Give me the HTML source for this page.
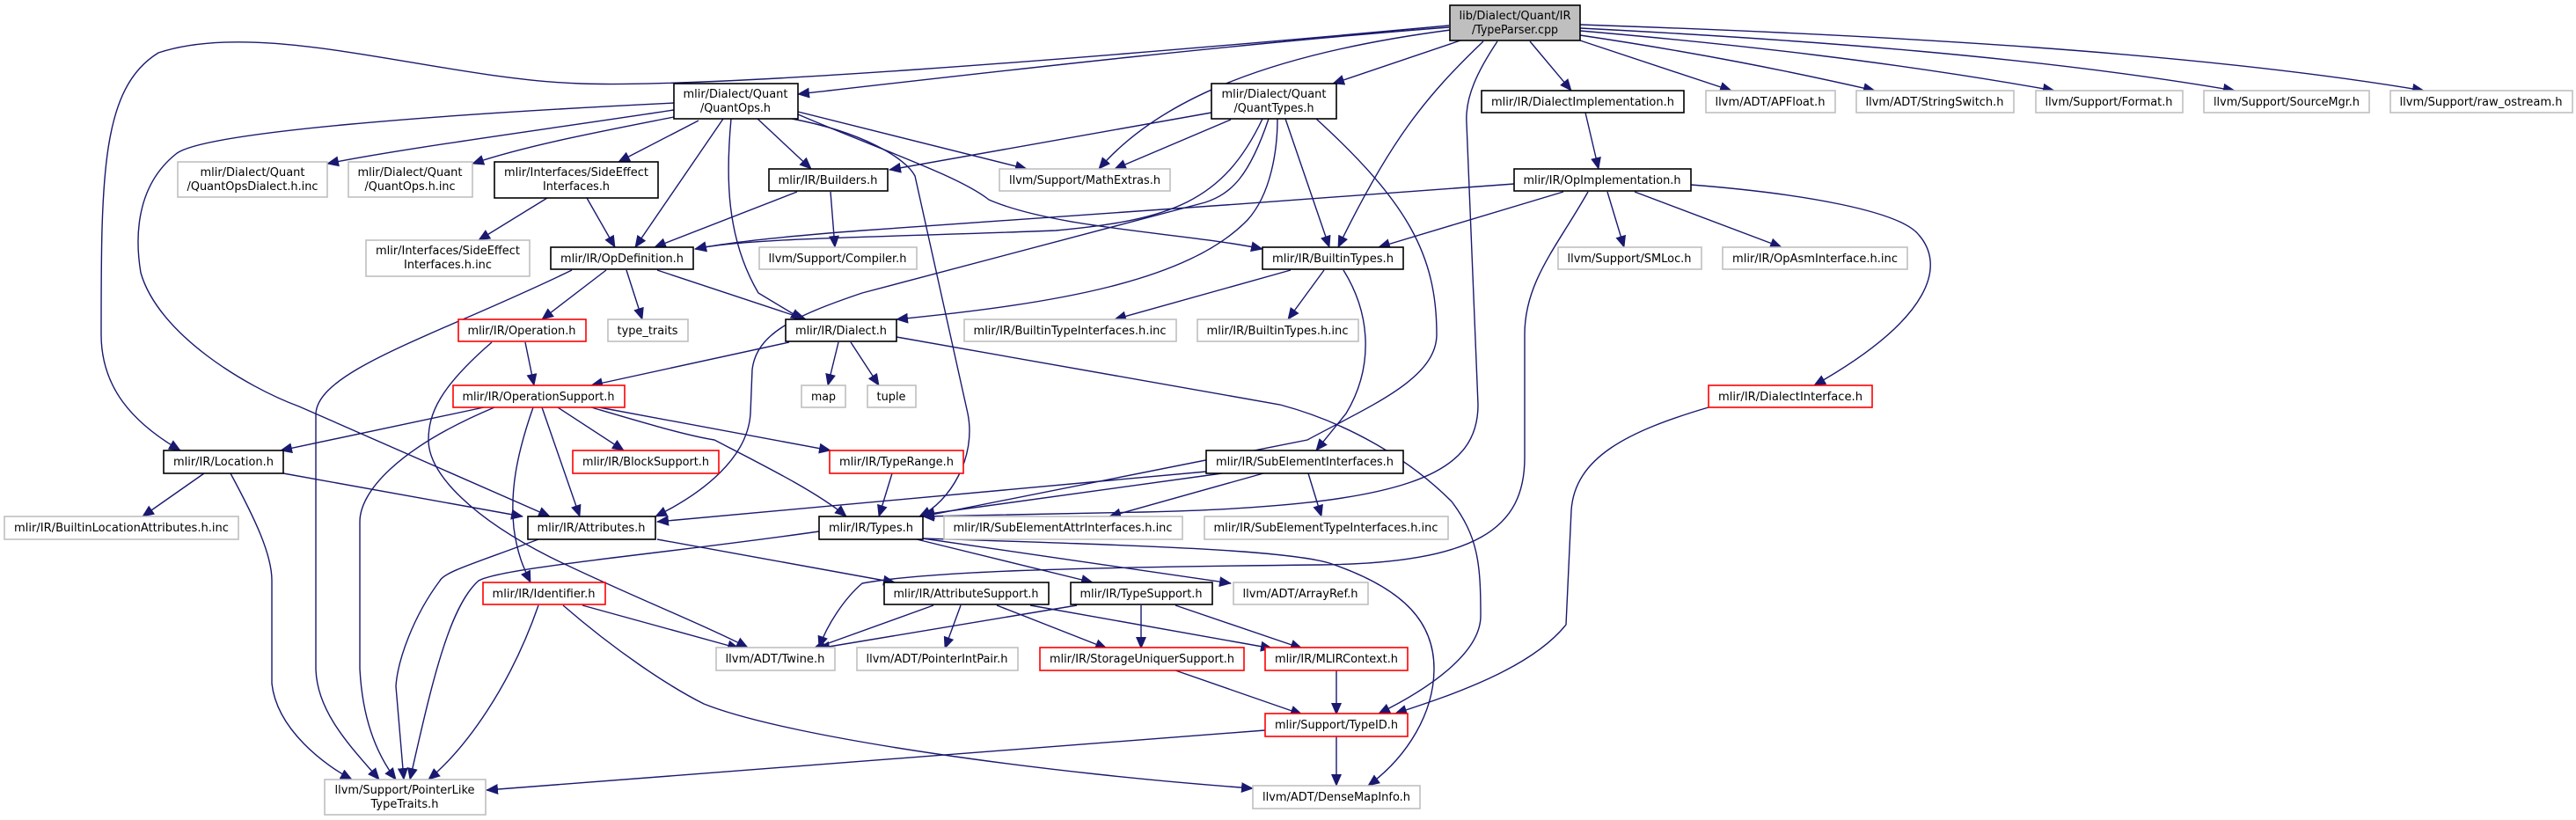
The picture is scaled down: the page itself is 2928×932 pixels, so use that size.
<!DOCTYPE html>
<html><head><meta charset="utf-8"><style>
html,body{margin:0;padding:0;background:#fff;}
svg{display:block;}
text{font-family:"DejaVu Sans","Liberation Sans",sans-serif;font-size:13px;fill:#000;}
.b{fill:#fff;stroke:#000;stroke-width:1.6;}
.g{fill:#fff;stroke:#bfbfbf;stroke-width:1.6;}
.r{fill:#fff;stroke:#ff0000;stroke-width:1.6;}
.e{fill:none;stroke:#191970;stroke-width:1.4;marker-end:url(#a);}
</style></head><body>
<svg width="2928" height="932" viewBox="0 0 2928 932" xmlns="http://www.w3.org/2000/svg">
<defs><marker id="a" markerUnits="userSpaceOnUse" markerWidth="14" markerHeight="12" refX="13" refY="6" orient="auto"><path d="M0,0 L14,6 L0,12 z" fill="#191970"/></marker></defs>

<!-- edges -->
<g>
<path class="e" d="M1647,31 C1400,50 1100,85 907,107"/>
<path class="e" d="M1647,29 C1200,70 800,100 660,95 C500,90 300,20 180,60 C115,100 115,200 115,380 C115,440 150,480 205,512"/>
<path class="e" d="M1649,34 C1450,60 1320,110 1249,192"/>
<path class="e" d="M1660,46 L1515,95"/>
<path class="e" d="M1686,47 C1620,110 1580,160 1521,281"/>
<path class="e" d="M1739,47 L1786,103"/>
<path class="e" d="M1702,47 C1680,80 1665,110 1667,140 L1680,460 C1680,540 1600,575 1300,582 L1049,587"/>
<path class="e" d="M1796,46 L1968,103"/>
<path class="e" d="M1796,40 C1930,60 2030,80 2131,103"/>
<path class="e" d="M1796,35 C1970,50 2150,70 2335,103"/>
<path class="e" d="M1796,32 C2050,45 2320,65 2540,103"/>
<path class="e" d="M1796,28 C2150,40 2500,60 2755,103"/>

<path class="e" d="M766,125 C600,150 450,170 372,186"/>
<path class="e" d="M766,133 C680,150 600,165 537,186"/>
<path class="e" d="M794,137 L703,184"/>
<path class="e" d="M822,135 L722,281"/>
<path class="e" d="M831,135 C825,200 825,270 862,333 L912,363"/>
<path class="e" d="M861,135 L922,192"/>
<path class="e" d="M766,117 C500,130 230,150 200,175 C150,215 155,280 160,310 C180,380 280,440 340,462 L625,587"/>
<path class="e" d="M907,127 L1167,192"/>
<path class="e" d="M907,130 C1000,170 1090,200 1124,227 C1200,260 1350,265 1435,283"/>
<path class="e" d="M900,135 C980,150 1030,180 1040,200 L1100,470 C1110,520 1080,570 1045,587"/>

<path class="e" d="M1377,128 L1011,193"/>
<path class="e" d="M1399,136 L1267,192"/>
<path class="e" d="M1435,135 C1390,230 1330,250 1200,262 C1000,270 850,270 790,283"/>
<path class="e" d="M1442,135 C1420,200 1400,220 1370,230 L980,333 C900,360 860,380 855,420 L853,470 C850,520 800,560 745,587"/>
<path class="e" d="M1461,135 L1511,281"/>
<path class="e" d="M1452,135 C1452,170 1445,220 1418,250 C1350,320 1200,345 1019,363"/>
<path class="e" d="M1496,135 C1600,230 1633,290 1633,380 C1633,430 1560,460 1486,500 L1049,587"/>

<path class="e" d="M906,218 L744,281"/>
<path class="e" d="M944,218 L949,281"/>
<path class="e" d="M622,225 L544,273"/>
<path class="e" d="M667,225 L699,281"/>
<path class="e" d="M689,307 L616,363"/>
<path class="e" d="M712,307 L730,363"/>
<path class="e" d="M747,307 L916,363"/>
<path class="e" d="M650,307 C500,380 362,420 359,470 L359,760 C360,810 400,850 431,886"/>
<path class="e" d="M597,389 L607,438"/>
<path class="e" d="M559,389 C500,440 487,470 487,500 C487,540 540,590 625,633 C700,670 800,710 850,736"/>
<path class="e" d="M897,389 L672,438"/>
<path class="e" d="M953,389 L941,438"/>
<path class="e" d="M967,389 L999,438"/>
<path class="e" d="M1019,383 L1455,460 C1530,480 1600,520 1650,570 C1680,610 1683,640 1683,700 C1683,740 1630,780 1567,811"/>

<path class="e" d="M1721,209 C1500,225 1100,255 980,262 C900,268 830,275 790,283"/>
<path class="e" d="M1777,218 L1567,281"/>
<path class="e" d="M1827,218 L1846,281"/>
<path class="e" d="M1858,218 L2025,281"/>
<path class="e" d="M1922,210 C2050,220 2160,240 2181,267 C2210,300 2200,360 2062,438"/>
<path class="e" d="M1805,218 C1770,280 1733,320 1733,380 L1733,520 C1733,600 1680,640 1500,642 C1200,645 1050,650 980,663 C960,680 940,710 931,736"/>
<path class="e" d="M1802,128 L1817,192"/>
<path class="e" d="M1467,307 L1267,363"/>
<path class="e" d="M1505,307 L1464,363"/>
<path class="e" d="M1527,307 C1560,360 1560,420 1530,470 L1496,512"/>

<path class="e" d="M550,463 L319,512"/>
<path class="e" d="M562,463 C450,510 409,560 409,593 L409,760 C412,820 430,860 450,886"/>
<path class="e" d="M606,463 C586,520 580,560 584,600 C588,630 595,645 603,662"/>
<path class="e" d="M616,463 L659,587"/>
<path class="e" d="M634,463 L709,512"/>
<path class="e" d="M672,463 C730,480 780,495 812,500 C870,530 930,560 962,587"/>
<path class="e" d="M681,463 L944,512"/>
<path class="e" d="M232,538 L162,587"/>
<path class="e" d="M322,538 L594,587"/>
<path class="e" d="M262,538 C290,590 309,630 309,660 L309,777 C315,830 370,870 400,886"/>
<path class="e" d="M612,613 C540,640 505,650 500,660 C470,700 452,750 450,780 L459,886"/>
<path class="e" d="M747,613 L1017,662"/>
<path class="e" d="M1014,538 L999,587"/>
<path class="e" d="M1371,536 L747,593"/>
<path class="e" d="M1389,538 L1049,585"/>
<path class="e" d="M1436,538 L1261,587"/>
<path class="e" d="M1487,538 L1502,587"/>
<path class="e" d="M931,604 C750,630 570,645 544,660 C510,690 490,780 466,886"/>
<path class="e" d="M1042,613 L1242,662"/>
<path class="e" d="M1049,612 L1399,663"/>
<path class="e" d="M1049,612 C1300,620 1460,625 1511,640 C1600,670 1630,710 1630,760 C1630,810 1600,860 1555,893"/>
<path class="e" d="M1061,688 L925,737"/>
<path class="e" d="M1092,688 L1074,737"/>
<path class="e" d="M1133,688 L1258,737"/>
<path class="e" d="M1171,688 L1446,737"/>
<path class="e" d="M1224,688 L930,737"/>
<path class="e" d="M1297,688 L1297,737"/>
<path class="e" d="M1336,688 L1480,737"/>
<path class="e" d="M1336,762 L1480,812"/>
<path class="e" d="M1519,762 L1519,812"/>
<path class="e" d="M1519,837 L1519,893"/>
<path class="e" d="M1438,830 L553,898"/>
<path class="e" d="M662,688 L840,737"/>
<path class="e" d="M612,688 C580,780 530,850 487,886"/>
<path class="e" d="M640,688 C700,740 760,780 800,800 C900,840 1200,880 1424,896"/>
<path class="e" d="M1942,463 C1850,490 1790,520 1786,580 L1780,710 C1740,760 1650,790 1586,811"/>
</g>

<!-- nodes -->
<g>
<rect x="1648" y="6" width="148" height="40" fill="#bfbfbf" stroke="#000" stroke-width="1.6"/>
<text x="1722" y="22" text-anchor="middle" textLength="127" lengthAdjust="spacingAndGlyphs">lib/Dialect/Quant/IR</text>
<text x="1722" y="38" text-anchor="middle" textLength="98" lengthAdjust="spacingAndGlyphs">/TypeParser.cpp</text>

<rect class="b" x="766" y="95" width="141" height="40"/>
<text x="836" y="111" text-anchor="middle" textLength="119" lengthAdjust="spacingAndGlyphs">mlir/Dialect/Quant</text>
<text x="836" y="127" text-anchor="middle" textLength="80" lengthAdjust="spacingAndGlyphs">/QuantOps.h</text>

<rect class="b" x="1377" y="95" width="142" height="40"/>
<text x="1448" y="111" text-anchor="middle" textLength="119" lengthAdjust="spacingAndGlyphs">mlir/Dialect/Quant</text>
<text x="1448" y="127" text-anchor="middle" textLength="91" lengthAdjust="spacingAndGlyphs">/QuantTypes.h</text>

<rect class="b" x="1684" y="103" width="230" height="25"/>
<text x="1799" y="120" text-anchor="middle" textLength="208" lengthAdjust="spacingAndGlyphs">mlir/IR/DialectImplementation.h</text>
<rect class="g" x="1939" y="103" width="147" height="25"/>
<text x="2012" y="120" text-anchor="middle" textLength="125" lengthAdjust="spacingAndGlyphs">llvm/ADT/APFloat.h</text>
<rect class="g" x="2110" y="103" width="179" height="25"/>
<text x="2199" y="120" text-anchor="middle" textLength="157" lengthAdjust="spacingAndGlyphs">llvm/ADT/StringSwitch.h</text>
<rect class="g" x="2314" y="103" width="167" height="25"/>
<text x="2397" y="120" text-anchor="middle" textLength="145" lengthAdjust="spacingAndGlyphs">llvm/Support/Format.h</text>
<rect class="g" x="2505" y="103" width="188" height="25"/>
<text x="2599" y="120" text-anchor="middle" textLength="166" lengthAdjust="spacingAndGlyphs">llvm/Support/SourceMgr.h</text>
<rect class="g" x="2717" y="103" width="207" height="25"/>
<text x="2820" y="120" text-anchor="middle" textLength="185" lengthAdjust="spacingAndGlyphs">llvm/Support/raw_ostream.h</text>

<rect class="g" x="202" y="184" width="170" height="40"/>
<text x="287" y="200" text-anchor="middle" textLength="119" lengthAdjust="spacingAndGlyphs">mlir/Dialect/Quant</text>
<text x="287" y="216" text-anchor="middle" textLength="149" lengthAdjust="spacingAndGlyphs">/QuantOpsDialect.h.inc</text>
<rect class="g" x="396" y="184" width="141" height="40"/>
<text x="466" y="200" text-anchor="middle" textLength="119" lengthAdjust="spacingAndGlyphs">mlir/Dialect/Quant</text>
<text x="466" y="216" text-anchor="middle" textLength="103" lengthAdjust="spacingAndGlyphs">/QuantOps.h.inc</text>
<rect class="b" x="562" y="184" width="186" height="41"/>
<text x="655" y="200" text-anchor="middle" textLength="164" lengthAdjust="spacingAndGlyphs">mlir/Interfaces/SideEffect</text>
<text x="655" y="216" text-anchor="middle" textLength="76" lengthAdjust="spacingAndGlyphs">Interfaces.h</text>
<rect class="b" x="874" y="192" width="135" height="25"/>
<text x="941" y="209" text-anchor="middle" textLength="113" lengthAdjust="spacingAndGlyphs">mlir/IR/Builders.h</text>
<rect class="g" x="1136" y="192" width="194" height="25"/>
<text x="1233" y="209" text-anchor="middle" textLength="172" lengthAdjust="spacingAndGlyphs">llvm/Support/MathExtras.h</text>
<rect class="b" x="1721" y="192" width="201" height="25"/>
<text x="1821" y="209" text-anchor="middle" textLength="179" lengthAdjust="spacingAndGlyphs">mlir/IR/OpImplementation.h</text>

<rect class="g" x="416" y="273" width="186" height="41"/>
<text x="509" y="289" text-anchor="middle" textLength="164" lengthAdjust="spacingAndGlyphs">mlir/Interfaces/SideEffect</text>
<text x="509" y="305" text-anchor="middle" textLength="100" lengthAdjust="spacingAndGlyphs">Interfaces.h.inc</text>
<rect class="b" x="626" y="281" width="162" height="25"/>
<text x="707" y="298" text-anchor="middle" textLength="140" lengthAdjust="spacingAndGlyphs">mlir/IR/OpDefinition.h</text>
<rect class="g" x="863" y="281" width="179" height="25"/>
<text x="952" y="298" text-anchor="middle" textLength="157" lengthAdjust="spacingAndGlyphs">llvm/Support/Compiler.h</text>
<rect class="b" x="1435" y="281" width="160" height="25"/>
<text x="1515" y="298" text-anchor="middle" textLength="138" lengthAdjust="spacingAndGlyphs">mlir/IR/BuiltinTypes.h</text>
<rect class="g" x="1771" y="281" width="163" height="25"/>
<text x="1852" y="298" text-anchor="middle" textLength="141" lengthAdjust="spacingAndGlyphs">llvm/Support/SMLoc.h</text>
<rect class="g" x="1958" y="281" width="210" height="25"/>
<text x="2063" y="298" text-anchor="middle" textLength="188" lengthAdjust="spacingAndGlyphs">mlir/IR/OpAsmInterface.h.inc</text>

<rect class="r" x="521" y="363" width="145" height="25"/>
<text x="593" y="380" text-anchor="middle" textLength="123" lengthAdjust="spacingAndGlyphs">mlir/IR/Operation.h</text>
<rect class="g" x="691" y="363" width="91" height="25"/>
<text x="736" y="380" text-anchor="middle" textLength="69" lengthAdjust="spacingAndGlyphs">type_traits</text>
<rect class="b" x="893" y="363" width="126" height="25"/>
<text x="956" y="380" text-anchor="middle" textLength="104" lengthAdjust="spacingAndGlyphs">mlir/IR/Dialect.h</text>
<rect class="g" x="1096" y="363" width="241" height="25"/>
<text x="1216" y="380" text-anchor="middle" textLength="219" lengthAdjust="spacingAndGlyphs">mlir/IR/BuiltinTypeInterfaces.h.inc</text>
<rect class="g" x="1361" y="363" width="183" height="25"/>
<text x="1452" y="380" text-anchor="middle" textLength="161" lengthAdjust="spacingAndGlyphs">mlir/IR/BuiltinTypes.h.inc</text>

<rect class="r" x="515" y="438" width="195" height="25"/>
<text x="612" y="455" text-anchor="middle" textLength="173" lengthAdjust="spacingAndGlyphs">mlir/IR/OperationSupport.h</text>
<rect class="g" x="911" y="438" width="50" height="25"/>
<text x="936" y="455" text-anchor="middle" textLength="28" lengthAdjust="spacingAndGlyphs">map</text>
<rect class="g" x="986" y="438" width="55" height="25"/>
<text x="1013" y="455" text-anchor="middle" textLength="33" lengthAdjust="spacingAndGlyphs">tuple</text>
<rect class="r" x="1942" y="438" width="186" height="25"/>
<text x="2035" y="455" text-anchor="middle" textLength="164" lengthAdjust="spacingAndGlyphs">mlir/IR/DialectInterface.h</text>

<rect class="b" x="186" y="512" width="136" height="26"/>
<text x="254" y="529" text-anchor="middle" textLength="114" lengthAdjust="spacingAndGlyphs">mlir/IR/Location.h</text>
<rect class="r" x="651" y="512" width="166" height="26"/>
<text x="734" y="529" text-anchor="middle" textLength="144" lengthAdjust="spacingAndGlyphs">mlir/IR/BlockSupport.h</text>
<rect class="r" x="943" y="512" width="152" height="26"/>
<text x="1019" y="529" text-anchor="middle" textLength="130" lengthAdjust="spacingAndGlyphs">mlir/IR/TypeRange.h</text>
<rect class="b" x="1371" y="512" width="224" height="26"/>
<text x="1483" y="529" text-anchor="middle" textLength="202" lengthAdjust="spacingAndGlyphs">mlir/IR/SubElementInterfaces.h</text>

<rect class="g" x="5" y="587" width="266" height="26"/>
<text x="138" y="604" text-anchor="middle" textLength="244" lengthAdjust="spacingAndGlyphs">mlir/IR/BuiltinLocationAttributes.h.inc</text>
<rect class="b" x="600" y="587" width="145" height="26"/>
<text x="672" y="604" text-anchor="middle" textLength="123" lengthAdjust="spacingAndGlyphs">mlir/IR/Attributes.h</text>
<rect class="b" x="931" y="587" width="118" height="26"/>
<text x="990" y="604" text-anchor="middle" textLength="96" lengthAdjust="spacingAndGlyphs">mlir/IR/Types.h</text>
<rect class="g" x="1073" y="587" width="271" height="26"/>
<text x="1208" y="604" text-anchor="middle" textLength="249" lengthAdjust="spacingAndGlyphs">mlir/IR/SubElementAttrInterfaces.h.inc</text>
<rect class="g" x="1369" y="587" width="277" height="26"/>
<text x="1507" y="604" text-anchor="middle" textLength="255" lengthAdjust="spacingAndGlyphs">mlir/IR/SubElementTypeInterfaces.h.inc</text>

<rect class="r" x="549" y="662" width="139" height="25"/>
<text x="618" y="679" text-anchor="middle" textLength="117" lengthAdjust="spacingAndGlyphs">mlir/IR/Identifier.h</text>
<rect class="b" x="1005" y="662" width="187" height="25"/>
<text x="1098" y="679" text-anchor="middle" textLength="165" lengthAdjust="spacingAndGlyphs">mlir/IR/AttributeSupport.h</text>
<rect class="b" x="1217" y="662" width="161" height="25"/>
<text x="1297" y="679" text-anchor="middle" textLength="139" lengthAdjust="spacingAndGlyphs">mlir/IR/TypeSupport.h</text>
<rect class="g" x="1402" y="662" width="153" height="25"/>
<text x="1478" y="679" text-anchor="middle" textLength="131" lengthAdjust="spacingAndGlyphs">llvm/ADT/ArrayRef.h</text>

<rect class="g" x="814" y="736" width="135" height="26"/>
<text x="881" y="753" text-anchor="middle" textLength="113" lengthAdjust="spacingAndGlyphs">llvm/ADT/Twine.h</text>
<rect class="g" x="974" y="736" width="183" height="26"/>
<text x="1065" y="753" text-anchor="middle" textLength="161" lengthAdjust="spacingAndGlyphs">llvm/ADT/PointerIntPair.h</text>
<rect class="r" x="1182" y="736" width="232" height="26"/>
<text x="1298" y="753" text-anchor="middle" textLength="210" lengthAdjust="spacingAndGlyphs">mlir/IR/StorageUniquerSupport.h</text>
<rect class="r" x="1438" y="736" width="162" height="26"/>
<text x="1519" y="753" text-anchor="middle" textLength="140" lengthAdjust="spacingAndGlyphs">mlir/IR/MLIRContext.h</text>

<rect class="r" x="1438" y="811" width="162" height="26"/>
<text x="1519" y="828" text-anchor="middle" textLength="140" lengthAdjust="spacingAndGlyphs">mlir/Support/TypeID.h</text>

<rect class="g" x="369" y="886" width="183" height="40"/>
<text x="460" y="902" text-anchor="middle" textLength="159" lengthAdjust="spacingAndGlyphs">llvm/Support/PointerLike</text>
<text x="460" y="918" text-anchor="middle" textLength="77" lengthAdjust="spacingAndGlyphs">TypeTraits.h</text>
<rect class="g" x="1424" y="893" width="190" height="26"/>
<text x="1519" y="910" text-anchor="middle" textLength="168" lengthAdjust="spacingAndGlyphs">llvm/ADT/DenseMapInfo.h</text>
</g>
</svg>
</body></html>
